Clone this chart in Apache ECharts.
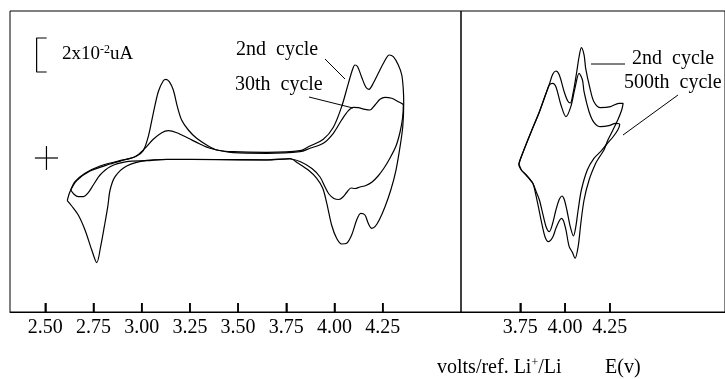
<!DOCTYPE html>
<html><head><meta charset="utf-8">
<script src="https://cdn.jsdelivr.net/npm/echarts@6/dist/echarts.min.js"></script>
<style>html,body{margin:0;padding:0;background:#fff}#c{width:725px;height:379px}</style>
</head><body><div id="c"></div>
<script>
// ---- data (volts vs current in units of 1e-2 uA) ----
const leftTicks = [2.50, 2.75, 3.00, 3.25, 3.50, 3.75, 4.00, 4.25];
const rightTicks = [3.75, 4.00, 4.25];

const cycle2Left = [
[2.614,-2.512],[2.628,-1.982],[2.663,-1.335],[2.732,-0.765],[2.836,-0.353],[2.922,-0.076],[2.974,0.118],[3.008,0.429],[3.034,1.253],[3.060,2.629],[3.086,3.900],[3.112,4.547],[3.126,4.629],[3.143,4.488],[3.164,4.0],[3.185,3.018],[3.207,2.235],[3.242,1.647],[3.285,1.159],[3.345,0.706],[3.389,0.471],[3.475,0.371],[3.648,0.335],[3.821,0.429],[3.873,0.706],[3.942,1.1],[3.994,1.806],[4.037,3.018],[4.072,4.394],[4.094,5.218],[4.106,5.471],[4.120,5.371],[4.141,4.747],[4.163,4.159],[4.179,4.041],[4.201,4.394],[4.227,4.982],[4.258,5.665],[4.284,6.059],[4.305,5.959],[4.331,5.471],[4.349,4.882],[4.357,4.0],[4.359,3.218],
[4.354,1.841],[4.340,0.665],[4.319,-0.706],[4.292,-1.882],[4.262,-2.865],[4.232,-3.647],[4.210,-4.041],[4.193,-4.135],[4.175,-3.841],[4.158,-3.353],[4.136,-3.253],[4.115,-3.647],[4.089,-4.529],[4.063,-5.018],[4.037,-5.059],[4.011,-4.724],[3.985,-3.941],[3.960,-2.665],[3.939,-1.782],[3.908,-1.194],[3.864,-0.706],[3.812,-0.312],[3.769,-0.03],[3.648,-0.106],[3.389,-0.088],[3.130,-0.088],[3.026,-0.135],[2.922,-0.471],[2.862,-1.1],[2.836,-1.882],[2.824,-2.865],[2.806,-4.041],[2.787,-5.218],[2.767,-6.159],[2.741,-5.412],[2.706,-4.235],[2.671,-3.353],[2.637,-2.824],[2.614,-2.512]
];

const cycle30Left = [
[2.632,-1.882],[2.654,-1.394],[2.706,-0.9],[2.784,-0.471],[2.887,-0.159],[2.965,0.076],[3.017,0.571],[3.060,1.1],[3.104,1.488],[3.138,1.606],[3.182,1.488],[3.242,1.159],[3.302,0.824],[3.354,0.571],[3.475,0.312],[3.648,0.276],[3.821,0.371],[3.873,0.571],[3.942,0.865],[3.994,1.453],[4.037,2.235],[4.072,2.782],[4.098,2.982],[4.123,2.959],[4.158,2.865],[4.184,2.824],[4.210,3.118],[4.236,3.453],[4.262,3.571],[4.297,3.512],[4.331,3.312],[4.357,3.118],
[4.353,2.353],[4.340,1.529],[4.319,0.706],[4.288,0],[4.257,-0.588],[4.226,-1.059],[4.195,-1.412],[4.163,-1.618],[4.132,-1.706],[4.106,-1.794],[4.086,-1.765],[4.065,-2.0],[4.044,-2.294],[4.023,-2.441],[3.997,-2.382],[3.971,-2.118],[3.951,-1.706],[3.925,-1.118],[3.883,-0.618],[3.821,-0.206],[3.769,-0.059],[3.648,-0.118],[3.389,-0.1],[3.130,-0.076],[3.026,-0.159],[2.922,-0.218],[2.836,-0.512],[2.784,-1.0],[2.749,-1.588],[2.723,-2.041],[2.697,-2.276],[2.671,-2.276],[2.649,-2.135],[2.632,-1.882]
];

const cycle2Right = [
[3.741,-0.412],[3.749,-0.118],[3.774,0.571],[3.811,1.547],[3.857,2.724],[3.894,3.806],[3.912,4.324],[3.931,4.924],[3.949,5.118],[3.968,4.882],[3.995,3.9],[4.015,3.353],[4.029,3.235],[4.045,3.824],[4.065,5.059],[4.078,5.941],[4.091,6.488],[4.106,6.059],[4.115,5.276],[4.139,4.1],[4.161,3.312],[4.198,2.959],[4.254,3.018],[4.300,3.218],[4.324,3.218],
[4.316,2.824],[4.294,2.235],[4.267,1.647],[4.239,1.059],[4.217,0.471],[4.192,0.059],[4.171,-0.312],[4.134,-1.294],[4.106,-2.471],[4.088,-3.841],[4.073,-5.218],[4.056,-5.9],[4.040,-5.529],[4.023,-5.218],[4.005,-4.235],[3.991,-3.688],[3.980,-3.547],[3.968,-3.688],[3.949,-4.135],[3.931,-4.665],[3.907,-4.924],[3.888,-4.629],[3.870,-3.841],[3.851,-2.865],[3.833,-1.982],[3.820,-1.488],[3.783,-1.0],[3.756,-0.706],[3.741,-0.412]
];

const cycle500Right = [
[3.743,-0.353],[3.749,-0.118],[3.774,0.571],[3.811,1.547],[3.857,2.724],[3.894,3.806],[3.912,4.294],[3.931,4.394],[3.949,4.194],[3.977,3.118],[4.005,2.429],[4.032,3.018],[4.055,4.1],[4.078,4.982],[4.097,4.588],[4.106,3.9],[4.134,2.724],[4.161,2.1],[4.198,1.841],[4.244,1.9],[4.282,2.041],[4.305,1.982],
[4.294,1.647],[4.267,1.235],[4.233,0.824],[4.198,0.371],[4.161,-0.018],[4.124,-0.706],[4.091,-1.882],[4.073,-3.059],[4.060,-4.041],[4.047,-4.588],[4.029,-4.041],[4.010,-3.059],[3.995,-2.429],[3.983,-2.235],[3.968,-2.429],[3.949,-3.059],[3.931,-3.841],[3.912,-4.335],[3.894,-4.041],[3.875,-3.253],[3.857,-2.471],[3.839,-1.982],[3.820,-1.488],[3.783,-1.0],[3.756,-0.706],[3.743,-0.353]
];

const scaleBarValue = 2;   // 2x10^-2 uA

// ---- layout ----
const FONT = 'Liberation Serif';
const L = {left: 10, top: 11, width: 451, height: 301};
const R = {left: 461, top: 11, width: 266, height: 301};
const pxPerVL = 192.8, pxPerVR = 180.6, pxPerUnit = 17, zeroPx = 158;
const xLmin = 2.5 - (45.3 - L.left) / pxPerVL, xLmax = xLmin + L.width / pxPerVL;
const xRmin = 3.75 - (520.7 - R.left) / pxPerVR, xRmax = xRmin + R.width / pxPerVR;
const yMax = (zeroPx - L.top) / pxPerUnit, yMin = -(L.top + L.height - zeroPx) / pxPerUnit;
const TICK_LEN = 9;

const barV = 2.455, barTickV = 2.507, barBottom = 5.06;
const scaleBar = [[barTickV, barBottom + scaleBarValue], [barV, barBottom + scaleBarValue], [barV, barBottom], [barTickV, barBottom]];
const plusC = [2.506, 0], plusHW = 0.06, plusHH = 0.7;
const tickTop = yMin + TICK_LEN / pxPerUnit;

const lineS = {color: '#000', width: 1.2};
function curve(data, ax, smooth, width) {
  return {type: 'line', data: data, xAxisIndex: ax, yAxisIndex: ax, showSymbol: false, symbol: 'none',
    smooth: smooth, lineStyle: {color: '#000', width: width || 1.2}, silent: true, z: 5, clip: false};
}
// tick marks: one short vertical segment per tick value, placed through the axis scale
function tickSeries(ticks, ax) {
  return ticks.map(v => curve([[v, yMin], [v, tickTop]], ax, false, 1.5));
}
function xAxisCfg(gi, min, max, ticks) {
  return {type: 'value', gridIndex: gi, min: min, max: max, position: 'bottom',
    axisLine: {show: true, onZero: false, lineStyle: {color: '#000', width: 1}},
    axisTick: {show: true, inside: true, length: TICK_LEN, customValues: ticks, lineStyle: {color: '#000', width: 1.5}},
    axisLabel: {show: true, customValues: ticks, margin: 6, color: '#000', fontFamily: FONT, fontSize: 20,
      formatter: v => v.toFixed(2)},
    splitLine: {show: false}};
}
function yAxisCfg(gi) {
  return {type: 'value', gridIndex: gi, min: yMin, max: yMax, show: false, splitLine: {show: false}};
}
// y given as text baseline; converted to middle of em box for Liberation Serif
function txt(x, baseline, text, size, rich) {
  return {type: 'text', x: x, y: baseline - 0.3375 * size, silent: true,
    style: {text: text, fill: '#000', fontFamily: FONT, fontSize: size, verticalAlign: 'middle', align: 'left', rich: rich}};
}
function seg(x1, y1, x2, y2) {
  return {type: 'line', silent: true, shape: {x1: x1, y1: y1, x2: x2, y2: y2}, style: {stroke: '#000', lineWidth: 1}};
}

const chart = echarts.init(document.getElementById('c'));
chart.setOption({
  animation: false,
  backgroundColor: '#fff',
  grid: [
    Object.assign({show: true, borderColor: '#000', borderWidth: 1, containLabel: false}, L),
    Object.assign({show: true, borderColor: '#000', borderWidth: 1, containLabel: false}, R)
  ],
  xAxis: [xAxisCfg(0, xLmin, xLmax, leftTicks), xAxisCfg(1, xRmin, xRmax, rightTicks)],
  yAxis: [yAxisCfg(0), yAxisCfg(1)],
  series: [
    curve(cycle2Left, 0, 0.3),
    curve(cycle30Left, 0, 0.3),
    curve(cycle2Right, 1, 0.3),
    curve(cycle500Right, 1, 0.3),
    curve(scaleBar, 0, false),
    curve([[plusC[0] - plusHW, plusC[1]], [plusC[0] + plusHW, plusC[1]]], 0, false),
    curve([[plusC[0], plusC[1] - plusHH], [plusC[0], plusC[1] + plusHH]], 0, false)
  ].concat(tickSeries(leftTicks, 0), tickSeries(rightTicks, 1)),
  graphic: [
    txt(62, 60, '2x10{s|-2}uA', 19, {s: {fontSize: 12, fontFamily: FONT, verticalAlign: 'top'}}),
    txt(236, 56, '2nd  cycle', 20),
    txt(235, 91, '30th  cycle', 20),
    txt(632, 65, '2nd  cycle', 20),
    txt(624, 89, '500th  cycle', 20),
    txt(437, 374, 'volts/ref. Li{s|+}/Li', 20, {s: {fontSize: 12, fontFamily: FONT, verticalAlign: 'top'}}),
    txt(605, 374, 'E(v)', 20),
    seg(325, 59, 345, 79),
    seg(309, 97, 353, 108),
    seg(591, 64, 625, 64),
    seg(678, 95, 623, 135)
  ]
});
</script>
</body></html>
